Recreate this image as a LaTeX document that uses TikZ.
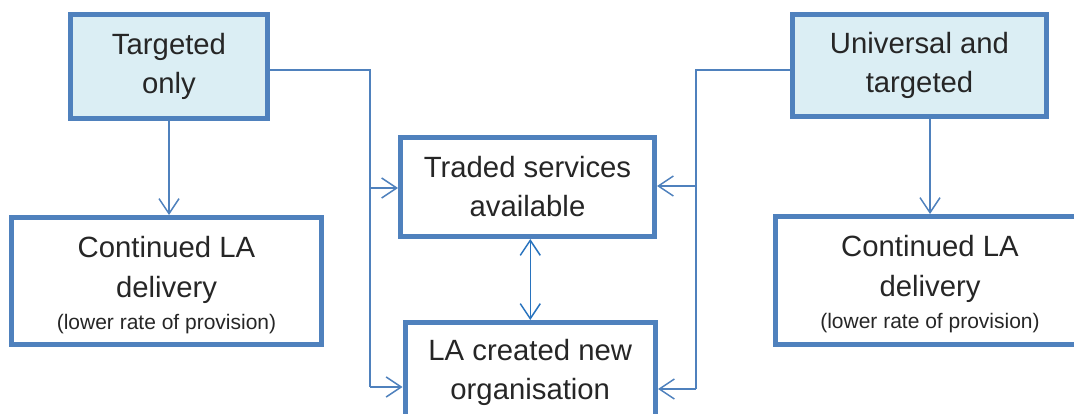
\documentclass[tikz,border=0pt]{standalone}
\usepackage{fontspec}
\setmainfont{Liberation Sans}
\usetikzlibrary{arrows.meta}
\definecolor{boxblue}{RGB}{79,129,189}
\definecolor{fillblue}{RGB}{219,238,244}
\definecolor{txt}{RGB}{38,38,38}
\definecolor{dblue}{RGB}{40,115,190}
\tikzset{
  box/.style={draw=boxblue, line width=5pt, inner sep=0pt, align=center, text=txt,
    font=\fontsize{29.3}{39}\selectfont},
  topbox/.style={box, fill=fillblue},
  ctext/.style={inner sep=0pt, align=center, text=txt, font=\fontsize{29.3}{40}\selectfont, text depth=0pt},
  conn/.style={draw=boxblue, line width=1.5pt},
  arr/.style={conn, -{Straight Barb[length=15pt,width=20pt,line width=1.5pt]}},
  darr/.style={draw=dblue, line width=1.5pt, {Straight Barb[length=15pt,width=20pt,line width=1.5pt]}-{Straight Barb[length=15pt,width=20pt,line width=1.5pt]}}
}
\newcommand{\smalltext}{\fontsize{21}{26}\selectfont}
\begin{document}
\begin{tikzpicture}[x=1pt,y=-1pt]
\useasboundingbox (0,0) rectangle (1074,414);
\node[topbox, minimum width=197pt, minimum height=104pt] (T) at (169,66.5) {Targeted\\only};
\node[topbox, minimum width=254pt, minimum height=102pt] (U) at (919.5,65.5) {Universal and\\targeted};
\node[box, minimum width=310pt, minimum height=127pt] (CL) at (166.5,281) {};
\node[ctext] (CLt) at (166.5,283) {Continued LA\\delivery\\[-8pt]{\smalltext (lower rate of provision)}};
\node[box, minimum width=310pt, minimum height=128pt] (CR) at (930,280.5) {};
\node[ctext] (CRt) at (930,282) {Continued LA\\delivery\\[-8pt]{\smalltext (lower rate of provision)}};
\node[box, minimum width=254pt, minimum height=99pt] (TS) at (527.5,187) {Traded services\\available};
\node[box, minimum width=250.5pt, minimum height=99pt] (LA) at (530.25,372) {LA created new\\organisation};
% left connectors
\coordinate (lj1) at (370,70);
\coordinate (lj2) at (370,188);
\coordinate (lj3) at (370,387);
\draw[conn] (T.east |- lj1) -- (lj1) -- (lj3);
\draw[arr] (lj2) -- (TS.west |- lj2);
\draw[arr] (lj3) -- (LA.west |- lj3);
% right connectors
\coordinate (rj1) at (696,70);
\coordinate (rj2) at (696,186);
\coordinate (rj3) at (696,389);
\draw[conn] (U.west |- rj1) -- (rj1) -- (rj3);
\draw[arr] (rj2) -- (TS.east |- rj2);
\draw[arr] (rj3) -- (LA.east |- rj3);
% down arrows
\draw[arr] (T.south) -- (T.south |- CL.north);
\draw[arr] (CR.north |- U.south) -- (CR.north);
% double arrow
\draw[darr] (LA.north |- TS.south) -- (LA.north);
\end{tikzpicture}
\end{document}
